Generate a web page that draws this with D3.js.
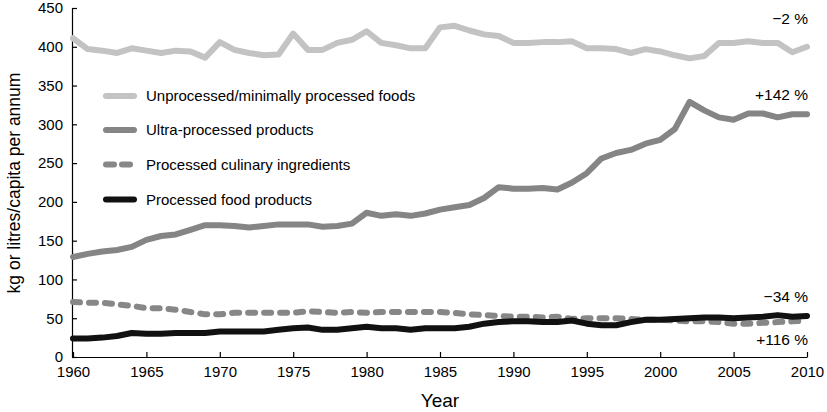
<!DOCTYPE html>
<html>
<head>
<meta charset="utf-8">
<script src="https://cdn.jsdelivr.net/npm/d3@7"></script>
<style>
body{margin:0;background:#fff}
text{font-family:"Liberation Sans",Arial,Helvetica,sans-serif;fill:#000}
</style>
</head>
<body>
<svg width="827" height="412"></svg>
<script>
// annual supply, kg or litres/capita per annum, 1960-2010
var years = d3.range(1960, 2011);
var unprocessed = [411,397,395,392,398,395,392,395,394,386,
                   406,396,392,389,390,417,396,396,405,409,
                   420,405,402,398,398,425,427,421,416,414,
                   405,405,406,406,407,398,398,397,392,397,
                   394,389,385,388,405,405,407,405,405,393,400];
var ultra = [129,133,136,138,142,151,156,158,164,170,
             170,169,167,169,171,171,171,168,169,172,
             186,182,184,182,185,190,193,196,205,219,
             217,217,218,216,225,237,256,263,267,275,
             280,294,329,318,309,306,314,314,309,313,313];
var culinary = [71,70,70,68,66,63,63,61,58,55,
                55,57,57,57,57,57,59,58,57,58,
                57,58,58,58,58,58,57,55,54,53,
                52,52,51,52,49,50,50,50,49,48,
                48,47,46,46,45,43,43,44,45,46,47];
var food = [24,24,25,27,31,30,30,31,31,31,
            33,33,33,33,35,37,38,35,35,37,
            39,37,37,35,37,37,37,39,43,45,
            46,46,45,45,47,43,41,41,45,48,
            48,49,50,51,51,50,51,52,54,52,53];

var seriesNames = ["Unprocessed/minimally processed foods","Ultra-processed products",
                   "Processed culinary ingredients","Processed food products"];
var seriesData = [unprocessed, ultra, culinary, food];
var seriesColor = ["#c3c3c3","#858585","#878787","#111111"];
var seriesDash = [null, null, "7,9", null];
var changeLabels = ["\u22122 %","+142 %","\u221234 %","+116 %"];
var changeY = [19, 95, 297, 340];
var xTicks = d3.range(1960, 2011, 5);
var yTicks = d3.range(0, 451, 50);

var svg = d3.select("svg");
var x = d3.scaleLinear().domain([1960, 2010]).range([73, 807]);
var y = d3.scaleLinear().domain([0, 450]).range([357, 8]);

// axes (ticks point inwards)
var xAxis = d3.axisBottom(x).tickValues(xTicks).tickFormat(d3.format("d")).tickSizeInner(-5).tickSizeOuter(0);
var gx = svg.append("g").attr("transform","translate(0,357)").call(xAxis);
gx.selectAll("text").style("font-size","15px").attr("y",15).attr("dy","0.35em");
gx.select(".domain").attr("d","M72,0.5H"+(x(2010)+0.5));

var yAxis = d3.axisLeft(y).tickValues(yTicks).tickSizeInner(-5).tickSizeOuter(0).tickPadding(9);
var gy = svg.append("g").attr("transform","translate(72,0)").call(yAxis);
gy.selectAll("text").style("font-size","15px");
svg.selectAll(".domain").attr("stroke","#000").attr("stroke-width",1.2);
svg.selectAll(".tick line").attr("stroke","#000").attr("stroke-width",1.2);

svg.append("text").attr("x",440).attr("y",400).attr("dy","0.35em").attr("text-anchor","middle")
   .style("font-size","19px").text("Year");
svg.append("text").attr("transform","translate(14,183) rotate(-90)").attr("dy","0.35em").attr("text-anchor","middle")
   .style("font-size","17.5px").text("kg or litres/capita per annum");

// lines
var line = d3.line().x(function(d,i){return x(years[i]);}).y(function(d){return y(d);});
seriesData.forEach(function(s, k){
    svg.append("path")
       .attr("d", line(s))
       .attr("fill","none")
       .attr("stroke", seriesColor[k])
       .attr("stroke-width", 6)
       .attr("stroke-linejoin","round")
       .attr("stroke-linecap","round")
       .attr("stroke-dasharray", seriesDash[k]);
});

// change labels
changeLabels.forEach(function(t, k){
    svg.append("text").attr("x",808).attr("y",changeY[k]).attr("dy","0.35em")
       .attr("text-anchor","end").style("font-size","15.5px").text(t);
});

// legend
var legendY = [96, 130, 164.5, 199.5];
seriesNames.forEach(function(n, k){
    svg.append("line").attr("x1",106).attr("x2",134).attr("y1",legendY[k]).attr("y2",legendY[k])
       .attr("stroke", seriesColor[k]).attr("stroke-width",6).attr("stroke-linecap","round")
       .attr("stroke-dasharray", seriesDash[k] ? "8,8" : null);
    svg.append("text").attr("x",146).attr("y",legendY[k]).attr("dy","0.35em")
       .style("font-size","15px").text(n);
});
</script>
</body>
</html>
